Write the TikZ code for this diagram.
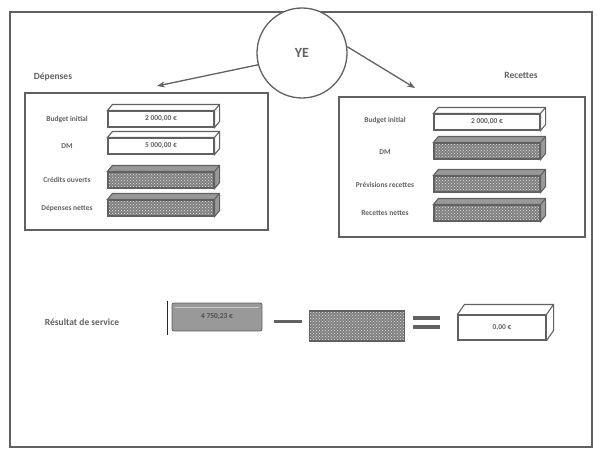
\documentclass[tikz,border=0pt]{standalone}
\usepackage{fontspec}
\setmainfont{Carlito}
\usetikzlibrary{patterns}
\usetikzlibrary{arrows.meta}
\newcommand{\barwidth}{106pt}
\newcommand{\barheight}{16pt}
\colorlet{ink}{black!62}

\begin{document}
\begin{tikzpicture}[x=1pt,y=-1pt,
        plain/.style={draw=ink,line width=1.1pt,fill=white,minimum width=\barwidth,minimum height=\barheight,inner sep=0pt,
                      font=\fontsize{7.5}{8}\selectfont\bfseries,text=ink},
        grain/.style={plain,preaction={fill=black!50},pattern=crosshatch dots,pattern color=black!12},
        title/.style={font=\fontsize{9.5}{10}\selectfont\bfseries,text=ink}]
                \useasboundingbox (0,0) rectangle (597,452);
                \draw[ink,line width=1.3pt] (10,12) rectangle (592,447);

                \node[circle,draw=ink,line width=1.3pt,fill=white,minimum size=90pt,
                      font=\fontsize{14}{16}\selectfont\bfseries,text=ink] (ye) at (302,53) {YE};
                \node[title] (dep) at (53,77) {Dépenses};
                \node[title] (rec) at (521,75) {Recettes};
                \coordinate (dtip) at (157,86);
                \coordinate (rtip) at (415,88);

                % the two frames
                \node[draw=ink,line width=1.2pt,minimum width=243pt,minimum height=137pt] (left) at (146.5,161.5) {};
                \node[draw=ink,line width=1.2pt,minimum width=246pt,minimum height=140pt] (right) at (462,167) {};

                \begin{scope}[every node/.style={font=\fontsize{7.5}{8}\selectfont\bfseries,text=ink}]
                    \node (l1) at (67,119) {Budget initial};
                    \node (l2) at (67,146) {DM};
                    \node (l3) at (67,180) {Crédits ouverts};
                    \node (l4) at (67,208) {Dépenses nettes};
                    \node (r1) at (385,120) {Budget initial};
                    \node (r2) at (385,152) {DM};
                    \node (r3) at (385,185) {Prévisions recettes};
                    \node (r4) at (385,213) {Recettes nettes};
                \end{scope}

                \node[plain] (bl1) at (161,119) {2 000,00 €};
                \node[plain] (bl2) at (161,146) {5 000,00 €};
                \node[grain] (bl3) at (161,180) {};
                \node[grain] (bl4) at (161,208) {};
                \node[plain] (br1) at (487,122) {2 000,00 €};
                \node[grain] (br2) at (487,151) {};
                \node[grain] (br3) at (487,184) {};
                \node[grain] (br4) at (487,213) {};

                % depth of the bars
                \foreach \n in {bl1,bl2,br1}
                    \draw[ink,line width=1.1pt,fill=white] (\n.north west) -- ++(5,-6) -| ([shift={(5,-6)}]\n.south east)
                        -- (\n.south east) -- (\n.north east) -- cycle (\n.north east) -- ++(5,-6);
                \foreach \n in {bl3,bl4,br2,br3,br4}
                    \draw[ink,line width=1.1pt,fill=black!40] (\n.north west) -- ++(5,-6) -| ([shift={(5,-6)}]\n.south east)
                        -- (\n.south east) -- (\n.north east) -- cycle (\n.north east) -- ++(5,-6);

                % result line
                \node[title] (res) at (82,322) {Résultat de service};
                \node[draw=ink,thick,rounded corners=2pt,fill=black!40,minimum width=90pt,minimum height=28pt,
                      font=\fontsize{7.5}{8}\selectfont\bfseries,text=black!70] (out) at (217,317) {4 750,23 €};
                \draw[black!85,line width=1.5pt] ([shift={(-4,-2)}]out.north west) -- ([shift={(-4,4)}]out.south west);
                \draw[black!20,thick] ([shift={(3,5)}]out.north west) -- ([shift={(-3,5)}]out.north east);
                \node[grain,minimum width=95pt,minimum height=30pt] (got) at (357,326) {};
                \node[plain,minimum width=88pt,minimum height=25pt] (zero) at (502,327.5) {0,00 €};
                \draw[ink,line width=1.1pt] (zero.north west) -- ++(7,-10) -| ([shift={(7,-10)}]zero.south east)
                    -- (zero.south east) (zero.north east) -- ++(7,-10);
                \draw[ink,line width=3pt] ([shift={(12,4)}]out.east) -- ++(28,0);
                \draw[ink,line width=3.5pt] ([shift={(8,-8)}]got.east) -- ++(27,0)
                    ([shift={(8,1)}]got.east) -- ++(27,0);

                \begin{scope}[>={Stealth[ink,length=8pt,width=6pt]},
                    every edge/.style={draw=ink,line width=1.3pt}]
                    \path [->] (ye.195) edge (dtip);
                    \path [->] (ye.8) edge (rtip);
                \end{scope}
\end{tikzpicture}
\end{document}
